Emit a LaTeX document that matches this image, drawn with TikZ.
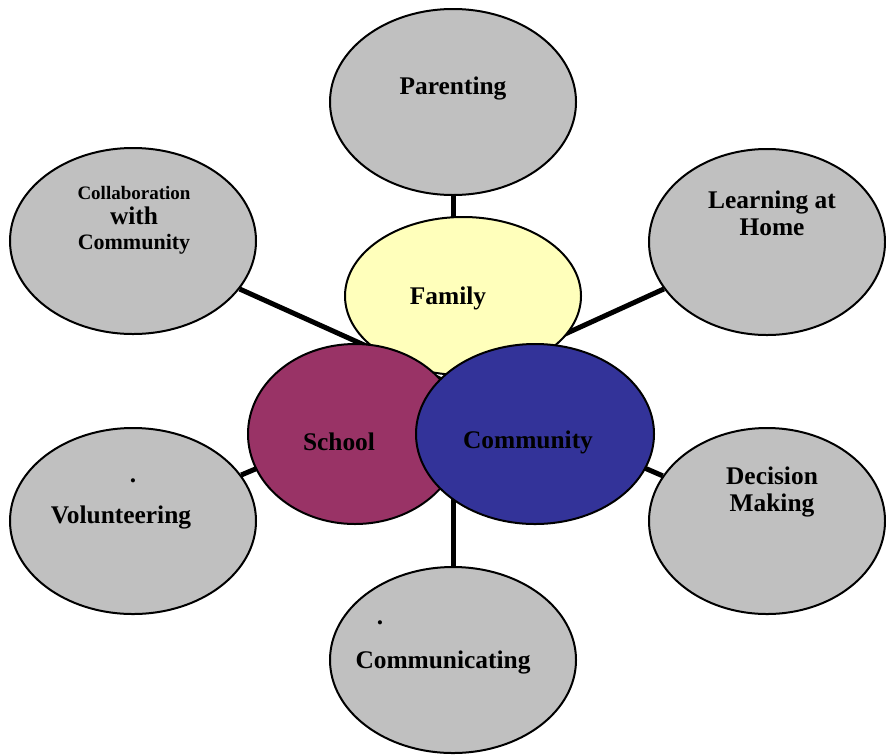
\documentclass[tikz,border=0pt]{standalone}
\usepackage{fontspec}
\setmainfont{Liberation Serif}
\usetikzlibrary{shapes.geometric}

\definecolor{ovalgray}{HTML}{C0C0C0}
\definecolor{familyyellow}{HTML}{FFFFBB}
\definecolor{schoolplum}{HTML}{993366}
\definecolor{communityblue}{HTML}{333399}

\pgfdeclarelayer{back}
\pgfsetlayers{back,main}

\begin{document}
\begin{tikzpicture}[x=0.5pt, y=-0.5pt,
	outer/.style={ellipse, draw, line width=1pt, fill=ovalgray, minimum width=123pt, minimum height=93pt, inner sep=0pt},
	inner/.style={ellipse, draw, line width=1pt, inner sep=0pt},
	spoke/.style={line width=2.5pt},
	lbl/.style={font={\fontsize{12.7}{13.5}\selectfont\bfseries}, align=center}]

		\useasboundingbox (0,0) rectangle (886,755);

		\coordinate (hub) at (453,385);

		% outer ovals
		\node[outer] (parenting) at (453,102) {};
		\node[outer, minimum width=118pt] (learning) at (767,242) {};
		\node[outer, minimum width=118pt] (decision) at (767,521) {};
		\node[outer] (communicating) at (453,660) {};
		\node[outer] (volunteering) at (133,521) {};
		\node[outer] (collaboration) at (133,241) {};

		% spokes, behind everything
		\begin{pgfonlayer}{back}
		\draw[spoke] (parenting) -- (hub);
		\draw[spoke] (learning) -- (hub);
		\draw[spoke] (decision) -- (hub);
		\draw[spoke] (communicating) -- (hub);
		\draw[spoke] (volunteering) -- (hub);
		\draw[spoke] (collaboration) -- (hub);
		\end{pgfonlayer}

		% centre ovals
		\node[inner, fill=familyyellow, minimum width=118pt, minimum height=79pt] (family) at (463,296) {};
		\node[inner, fill=schoolplum, minimum width=107pt, minimum height=90pt] (school) at (355,434) {};
		\node[inner, fill=communityblue, minimum width=119pt, minimum height=90pt] (community) at (535,434) {};

		% labels
		\node[lbl] (parenting-t) at (453,88) {Parenting};
		\node[lbl] (learning-t) at (772,213) {Learning at\\Home};
		\node[lbl] (decision-t) at (772,492) {Decision\\Making};
		\node[lbl] (communicating-dot) at (380,623) {.};
		\node[lbl] (communicating-t) at (443,662) {Communicating};
		\node[lbl] (volunteering-dot) at (133,481) {.};
		\node[lbl] (volunteering-t) at (121,517) {Volunteering};
		\node[lbl, font={\fontsize{12.7}{12.5}\selectfont\bfseries}] (collaboration-t) at (134,220) {{\fontsize{9.5}{12.5}\selectfont Collaboration}\\with\\{\fontsize{11}{12.5}\selectfont Community}};
		\node[lbl] (family-t) at (448,298) {Family};
		\node[lbl] (school-t) at (339,442) {School};
		\node[lbl] (community-t) at (528,442) {Community};
    \end{tikzpicture}
\end{document}
